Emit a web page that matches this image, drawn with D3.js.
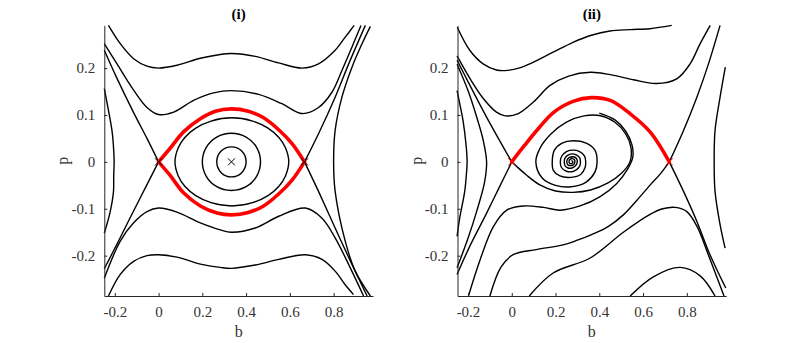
<!DOCTYPE html>
<html>
<head>
<meta charset="utf-8">
<script src="https://cdnjs.cloudflare.com/ajax/libs/d3/7.8.5/d3.min.js"></script>
<style>
  body { margin: 0; background: #fff; }
  svg { display: block; }
  text { font-family: "Liberation Serif", "Times New Roman", serif; }
</style>
</head>
<body>
<svg id="chart" width="802" height="343"></svg>
<script>
// ---- axes ----
var bDomain = [-0.248, 0.98];
var pDomain = [-0.286, 0.291];
var bTicks = [-0.2, 0, 0.2, 0.4, 0.6, 0.8];
var pTicks = [-0.2, -0.1, 0, 0.1, 0.2];
var titles = ["(i)", "(ii)"];

// ---- panel (i): trajectories, [b, p] ----
var iTop = [[-0.229,0.291],[-0.175,0.252],[-0.114,0.220],[-0.053,0.204],[0,0.200],[0.084,0.206],[0.191,0.221],[0.282,0.229],[0.333,0.231],[0.442,0.225],[0.549,0.211],[0.656,0.200],[0.731,0.209],[0.807,0.238],[0.853,0.266],[0.894,0.291]];
var iSecond = [[-0.248,0.252],[-0.19,0.209],[-0.114,0.153],[-0.053,0.116],[0,0.101],[0.069,0.106],[0.16,0.131],[0.251,0.147],[0.333,0.152],[0.457,0.144],[0.564,0.124],[0.656,0.103],[0.731,0.116],[0.793,0.149],[0.838,0.195],[0.884,0.245],[0.925,0.291]];
var iSepUL = [[-0.248,0.238],[-0.19,0.178],[-0.114,0.105],[-0.053,0.050],[0,0]];
var iSepLL = [[0,0],[-0.06,-0.055],[-0.12,-0.11],[-0.18,-0.166],[-0.248,-0.228]];
var iSepUR = [[0.667,0],[0.731,0.06],[0.807,0.138],[0.869,0.209],[0.945,0.291]];
var iSepLR = [[0.667,0],[0.731,-0.063],[0.807,-0.141],[0.884,-0.219],[0.953,-0.286]];
var iOutL = [[-0.248,0.156],[-0.229,0.11],[-0.213,0.067],[-0.206,0.032],[-0.203,0],[-0.205,-0.03],[-0.206,-0.063],[-0.221,-0.106],[-0.248,-0.152]];
var iOutR = [[0.968,0.289],[0.93,0.252],[0.884,0.202],[0.838,0.138],[0.807,0.067],[0.8,0],[0.807,-0.063],[0.853,-0.169],[0.899,-0.233],[0.968,-0.286]];
var iLow1 = [[-0.248,-0.248],[-0.175,-0.169],[-0.114,-0.13],[-0.053,-0.106],[0,-0.0985],[0.084,-0.107],[0.191,-0.13],[0.282,-0.145],[0.333,-0.15],[0.442,-0.141],[0.549,-0.116],[0.671,-0.0985],[0.747,-0.12],[0.807,-0.162],[0.869,-0.219],[0.937,-0.286]];
var iLow2 = [[-0.229,-0.286],[-0.175,-0.240],[-0.114,-0.212],[-0.053,-0.200],[0,-0.198],[0.084,-0.203],[0.191,-0.218],[0.282,-0.225],[0.333,-0.227],[0.442,-0.220],[0.549,-0.208],[0.671,-0.198],[0.747,-0.208],[0.807,-0.233],[0.853,-0.262],[0.891,-0.283]];
var iOrb1 = [[0.266,0],[0.286,0.023],[0.333,0.032],[0.380,0.023],[0.400,0],[0.380,-0.023],[0.333,-0.032],[0.286,-0.023]];
var iOrb2 = [[0.2,0],[0.218,0.031],[0.266,0.053],[0.333,0.061],[0.40,0.053],[0.448,0.031],[0.466,0],[0.448,-0.031],[0.40,-0.053],[0.333,-0.061],[0.266,-0.053],[0.218,-0.031]];
var iOrb3 = [[0.075,0],[0.09,0.03],[0.12,0.052],[0.17,0.072],[0.24,0.087],[0.335,0.094],[0.43,0.087],[0.5,0.072],[0.55,0.052],[0.58,0.03],[0.595,0],[0.58,-0.03],[0.55,-0.052],[0.5,-0.072],[0.43,-0.087],[0.335,-0.094],[0.24,-0.087],[0.17,-0.072],[0.12,-0.052],[0.09,-0.03]];
var iHetU = [[0,0],[0.053,0.029],[0.114,0.064],[0.191,0.092],[0.26,0.108],[0.333,0.113],[0.41,0.108],[0.48,0.094],[0.55,0.068],[0.61,0.039],[0.667,0]];
var iHetL = [[0,0],[0.053,-0.029],[0.114,-0.066],[0.191,-0.094],[0.267,-0.109],[0.333,-0.113],[0.41,-0.108],[0.48,-0.094],[0.55,-0.068],[0.61,-0.039],[0.667,0]];
var iSaddles = [[0,0],[0.667,0]];
var iCentre = [[0.333,0]];

// ---- panel (ii) ----
var iiT1 = [[-0.249,0.287],[-0.192,0.238],[-0.131,0.209],[-0.07,0.196],[-0.02,0.195],[0.04,0.201],[0.082,0.209],[0.189,0.234],[0.28,0.255],[0.364,0.27],[0.449,0.279],[0.541,0.282],[0.632,0.284],[0.731,0.291]];
var iiT2 = [[-0.25,0.226],[-0.19,0.177],[-0.13,0.135],[-0.07,0.106],[-0.03,0.098],[0.03,0.103],[0.10,0.128],[0.175,0.163],[0.26,0.183],[0.36,0.191],[0.45,0.186],[0.556,0.175],[0.66,0.167],[0.754,0.177],[0.815,0.209],[0.861,0.252],[0.907,0.291]];
var iiSepUL = [[-0.25,0.217],[-0.19,0.162],[-0.125,0.104],[-0.06,0.049],[0,0]];
var iiL3 = [[-0.25,0.208],[-0.2,0.152],[-0.16,0.095],[-0.13,0.045],[-0.115,0],[-0.125,-0.045],[-0.16,-0.105],[-0.2,-0.163],[-0.25,-0.226]];
var iiOutL = [[-0.25,0.152],[-0.236,0.12],[-0.223,0.089],[-0.208,0.032],[-0.204,0],[-0.208,-0.03],[-0.215,-0.063],[-0.238,-0.12],[-0.25,-0.159]];
var iiSepLL = [[0,0],[-0.06,-0.057],[-0.12,-0.114],[-0.19,-0.178],[-0.25,-0.24]];
var iiSepUR = [[0.72,0],[0.785,0.067],[0.846,0.138],[0.899,0.209],[0.952,0.291]];
var iiOutR = [[0.976,0.202],[0.952,0.138],[0.929,0.067],[0.925,0],[0.929,-0.063],[0.952,-0.134],[0.975,-0.184]];
var iiSepLR = [[0.72,0],[0.785,-0.063],[0.846,-0.127],[0.906,-0.198],[0.978,-0.269]];
var iiRS = [[0.72,0],[0.68,-0.025],[0.633,-0.049],[0.57,-0.083],[0.51,-0.113],[0.44,-0.138],[0.365,-0.155],[0.30,-0.167],[0.235,-0.177],[0.112,-0.187],[0.006,-0.198],[-0.05,-0.225],[-0.1,-0.286]];
var iiG1 = [[-0.198,-0.286],[-0.145,-0.209],[-0.084,-0.138],[-0.023,-0.103],[0.053,-0.094],[0.145,-0.097],[0.221,-0.103],[0.312,-0.094],[0.404,-0.074],[0.48,-0.046],[0.53,-0.015],[0.553,0.01],[0.55,0.035],[0.52,0.066],[0.47,0.09],[0.40,0.104]];
var iiR2 = [[0.97,-0.286],[0.9,-0.2],[0.846,-0.137],[0.8,-0.106],[0.747,-0.097],[0.69,-0.1],[0.632,-0.112],[0.51,-0.15],[0.358,-0.205],[0.189,-0.237],[0.08,-0.286]];
var iiR3 = [[0.541,-0.286],[0.647,-0.245],[0.77,-0.225],[0.861,-0.243],[0.929,-0.286]];
var iiSpiral = [[0,0],[0.067,-0.028],[0.128,-0.049],[0.2,-0.062],[0.28,-0.065],[0.36,-0.06],[0.44,-0.045],[0.50,-0.025],[0.54,0],
  [0.545,0.03],[0.52,0.06],[0.47,0.085],[0.40,0.099],[0.33,0.098],[0.25,0.085],[0.18,0.06],[0.13,0.03],[0.11,0],
  [0.14,-0.035],[0.20,-0.050],[0.272,-0.053],[0.34,-0.043],[0.38,-0.022],[0.39,0],
  [0.38,0.025],[0.34,0.040],[0.28,0.045],[0.23,0.040],[0.195,0.025],[0.185,0],
  [0.19,-0.018],[0.22,-0.03],[0.272,-0.033],[0.315,-0.027],[0.335,-0.012],[0.338,0],
  [0.332,0.013],[0.31,0.022],[0.28,0.025],[0.25,0.022],[0.228,0.012],[0.222,0],
  [0.227,-0.012],[0.25,-0.02],[0.275,-0.021],[0.298,-0.016],[0.312,-0.007],[0.314,0],
  [0.31,0.009],[0.295,0.015],[0.275,0.017],[0.255,0.014],[0.242,0.007],[0.24,0],
  [0.243,-0.008],[0.257,-0.013],[0.275,-0.013],[0.29,-0.009],[0.298,-0.003],[0.299,0.003],
  [0.292,0.009],[0.278,0.011],[0.262,0.009],[0.253,0.004],[0.252,-0.002],[0.258,-0.007],
  [0.27,-0.008],[0.282,-0.006],[0.288,-0.001],[0.286,0.005],[0.278,0.007],[0.268,0.006],
  [0.262,0.002],[0.264,-0.003],[0.272,-0.004],[0.278,-0.002],[0.277,0.002],[0.272,0.002]];
var iiHet = [[0,0],[0.06,0.036],[0.12,0.07],[0.19,0.105],[0.28,0.129],[0.364,0.137],[0.45,0.131],[0.54,0.103],[0.632,0.064],[0.72,0]];
var iiSaddles = [[0,0],[0.72,0]];

var panels = [
  { x0: 104.3, x1: 373, title: titles[0],
    black: [iTop, iSecond, iSepUL, iSepLL, iSepUR, iSepLR, iOutL, iOutR, iLow1, iLow2],
    closed: [iOrb1, iOrb2, iOrb3],
    red: [iHetU, iHetL],
    marks: [{ pts: iCentre, color: "#000" }, { pts: iSaddles, color: "#000" }] },
  { x0: 457.5, x1: 726.2, title: titles[1],
    black: [iiT1, iiT2, iiSepUL, iiL3, iiOutL, iiSepLL, iiSepUR, iiOutR, iiSepLR, iiRS, iiG1, iiR2, iiR3, iiSpiral],
    closed: [],
    red: [iiHet],
    marks: [{ pts: iiSaddles, color: "#ff0000" }] }
];

var svg = d3.select("#chart");
var yTop = 25.4, yBot = 296;
var y = d3.scaleLinear().domain(pDomain).range([yBot, yTop]);

panels.forEach(function (pn) {
  var x = d3.scaleLinear().domain(bDomain).range([pn.x0, pn.x1]);
  var g = svg.append("g");

  var line = d3.line().x(d => x(d[0])).y(d => y(d[1])).curve(d3.curveCatmullRom.alpha(0.5));
  var loop = d3.line().x(d => x(d[0])).y(d => y(d[1])).curve(d3.curveCatmullRomClosed.alpha(0.5));

  g.selectAll("path.traj").data(pn.black).join("path")
    .attr("class", "traj").attr("d", line)
    .attr("fill", "none").attr("stroke", "#000").attr("stroke-width", 1.4);
  g.selectAll("path.orb").data(pn.closed).join("path")
    .attr("class", "orb").attr("d", loop)
    .attr("fill", "none").attr("stroke", "#000").attr("stroke-width", 1.4);
  g.selectAll("path.het").data(pn.red).join("path")
    .attr("class", "het").attr("d", line)
    .attr("fill", "none").attr("stroke", "#ff0000").attr("stroke-width", 3.6)
    .attr("stroke-linecap", "round");

  // x markers at the equilibria
  pn.marks.forEach(function (m) {
    var s = 3.5;
    g.selectAll(null).data(m.pts).join("path")
      .attr("d", d => "M" + (x(d[0]) - s) + "," + (y(d[1]) - s) + "L" + (x(d[0]) + s) + "," + (y(d[1]) + s) +
                      "M" + (x(d[0]) - s) + "," + (y(d[1]) + s) + "L" + (x(d[0]) + s) + "," + (y(d[1]) - s))
      .attr("stroke", m.color).attr("stroke-width", 1);
  });

  var fmt = d => d === 0 ? "0" : String(d);
  var xAxis = g.append("g").attr("transform", "translate(0," + yBot + ")")
    .call(d3.axisBottom(x).tickValues(bTicks).tickFormat(fmt).tickSize(-3).tickSizeOuter(0).tickPadding(10));
  var yAxis = g.append("g").attr("transform", "translate(" + pn.x0 + ",0)")
    .call(d3.axisLeft(y).tickValues(pTicks).tickFormat(fmt).tickSize(-3).tickSizeOuter(0).tickPadding(9));
  [xAxis, yAxis].forEach(function (a) {
    a.select(".domain").attr("stroke", "#262626");
    a.selectAll(".tick line").attr("stroke", "#262626");
    a.selectAll("text").attr("fill", "#333").attr("font-size", 15)
      .attr("font-family", '"Liberation Serif", serif');
  });

  var cx = (pn.x0 + pn.x1) / 2;
  g.append("text").attr("x", cx).attr("y", 19).attr("text-anchor", "middle")
    .attr("font-size", 15).attr("font-weight", "bold").attr("fill", "#000").text(pn.title);
  g.append("text").attr("x", cx).attr("y", 337).attr("text-anchor", "middle")
    .attr("font-size", 16).attr("fill", "#333").text("b");
  g.append("text").attr("transform", "translate(" + (pn.x0 - 36) + "," + ((yTop + yBot) / 2) + ") rotate(-90)")
    .attr("text-anchor", "middle").attr("font-size", 16).attr("fill", "#333").text("p");
});
</script>
</body>
</html>
